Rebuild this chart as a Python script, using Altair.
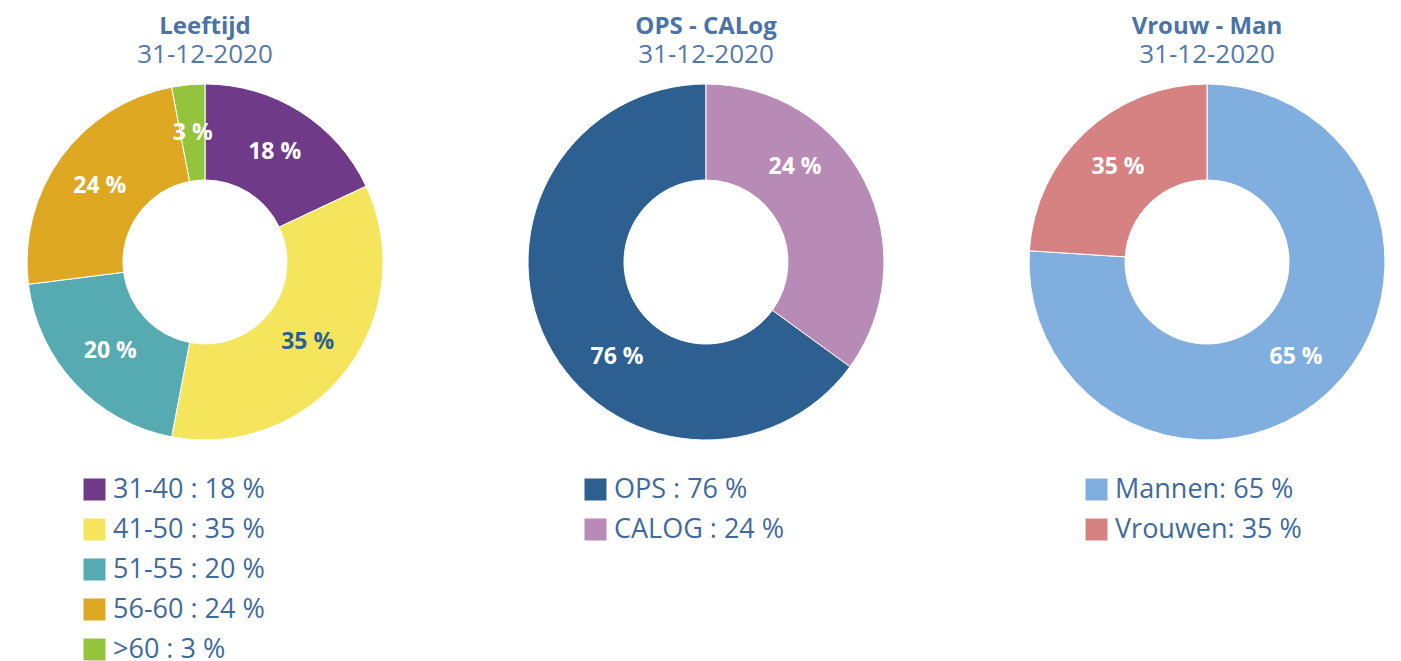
import altair as alt
import pandas as pd

FONT = "Open Sans"
TITLE_COLOR = "#4a73a6"
SUB_COLOR = "#5479a8"
LEGEND_COLOR = "#3f6a9b"
DARK_LABEL = "#2e5f90"

# ---- Leeftijd ----
age_groups = ["31-40", "41-50", "51-55", "56-60", ">60"]
age_pct = [18, 35, 20, 24, 3]
age_arc = [18, 35, 20, 24, 3]
age_textpos = [18, 35, 20, 24, 3]
age_order = [0, 1, 2, 3, 4]
age_colors = ["#6f3a87", "#f5e55c", "#55abb1", "#dfa823", "#94c43c"]
age_dark = [False, True, False, False, False]
age_sep = " : "

# ---- OPS - CALog ----
ops_groups = ["OPS", "CALOG"]
ops_pct = [76, 24]
ops_arc = [65, 35]        # arc sizes as drawn in the picture
ops_textpos = [76, 24]
ops_order = [1, 0]
ops_colors = ["#2d6091", "#b88bb6"]
ops_dark = [False, False]
ops_sep = " : "

# ---- Vrouw - Man ----
sex_groups = ["Mannen", "Vrouwen"]
sex_pct = [65, 35]
sex_arc = [76, 24]        # arc sizes as drawn in the picture
sex_textpos = [76, 24]
sex_order = [0, 1]
sex_colors = ["#80aede", "#d78282"]
sex_dark = [False, False]
sex_sep = ": "

PANEL_W = 360
PANEL_H = 382


def panel(title, groups, pct, arc, textpos, order, colors, dark, sep):
    legend_labels = [f"{g}{sep}{p} %" for g, p in zip(groups, pct)]
    df = pd.DataFrame({
        "legend": legend_labels,
        "arc": arc,
        "tpos": textpos,
        "ord": order,
        "label": [f"{p} %" for p in pct],
        "dark": dark,
    })
    color = alt.Color(
        "legend:N",
        scale=alt.Scale(domain=legend_labels, range=colors),
        legend=alt.Legend(
            title=None,
            orient="none",
            legendX=56,
            legendY=405,
            symbolType="square",
            symbolSize=484,
            symbolStrokeWidth=0,
            symbolOpacity=1,
            labelFont=FONT,
            labelFontSize=27,
            labelColor=LEGEND_COLOR,
            labelLimit=400,
            labelOffset=5,
            rowPadding=12,
        ),
    )
    base = alt.Chart(df)
    arcs = base.mark_arc(innerRadius=82, outerRadius=178, stroke="white", strokeWidth=1).encode(
        theta=alt.Theta("arc:Q", stack=True, scale=alt.Scale(domain=[0, 100])),
        color=color,
        order=alt.Order("ord:Q"),
    )
    texts = base.mark_text(radius=130, font=FONT, fontSize=23, fontWeight="bold").encode(
        theta=alt.Theta("tpos:Q", stack=True, scale=alt.Scale(domain=[0, 100])),
        text="label:N",
        color=alt.condition("datum.dark", alt.value(DARK_LABEL), alt.value("white")),
        order=alt.Order("ord:Q"),
    )
    return alt.layer(arcs, texts).properties(
        width=PANEL_W,
        height=PANEL_H,
        title=alt.TitleParams(
            text=title,
            subtitle="31-12-2020",
            font=FONT,
            fontSize=24,
            fontWeight="bold",
            color=TITLE_COLOR,
            subtitleFont=FONT,
            subtitleFontSize=26,
            subtitleColor=SUB_COLOR,
            subtitlePadding=3,
            anchor="middle",
            offset=3,
        ),
    )


p1 = panel("Leeftijd", age_groups, age_pct, age_arc, age_textpos, age_order, age_colors, age_dark, age_sep)
p2 = panel("OPS - CALog", ops_groups, ops_pct, ops_arc, ops_textpos, ops_order, ops_colors, ops_dark, ops_sep)
p3 = panel("Vrouw - Man", sex_groups, sex_pct, sex_arc, sex_textpos, sex_order, sex_colors, sex_dark, sex_sep)

chart = (
    alt.hconcat(p1, p2, p3, spacing=141)
    .resolve_scale(color="independent", theta="independent")
    .properties(padding={"left": 17, "top": 7, "right": 0, "bottom": 0}, background="white")
    .configure_view(stroke=None)
)

chart.save("out.html", embed_options={"renderer": "svg", "actions": False})
